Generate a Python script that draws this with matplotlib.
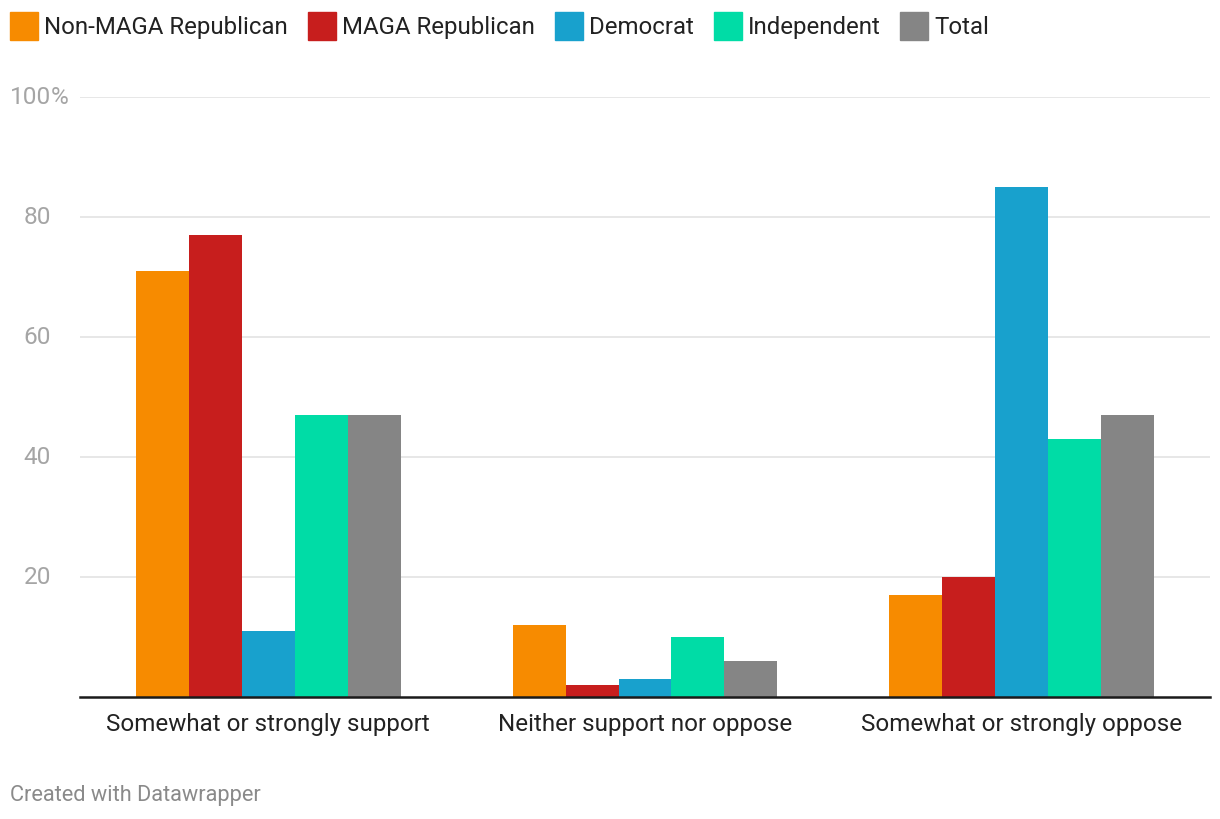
import matplotlib
matplotlib.use("Agg")
import matplotlib.pyplot as plt
import matplotlib.patches as mpatches
import matplotlib.transforms as mtransforms
import numpy as np

plt.rcParams['font.family'] = ['Roboto', 'DejaVu Sans']

categories = ["Somewhat or strongly support", "Neither support nor oppose", "Somewhat or strongly oppose"]
series_names = ["Non-MAGA Republican", "MAGA Republican", "Democrat", "Independent", "Total"]
non_maga = [71, 12, 17]
maga = [77, 2, 20]
democrat = [11, 3, 85]
independent = [47, 10, 43]
total = [47, 6, 47]
series_values = [non_maga, maga, democrat, independent, total]
colors = ["#F78B00", "#C71E1D", "#18A1CD", "#00DCA6", "#858585"]
y_ticks = [20, 40, 60, 80, 100]
y_tick_labels = ["20", "40", "60", "80", "100%"]

W, H = 1220, 820
fig = plt.figure(figsize=(W / 100, H / 100), dpi=100)
ax = fig.add_axes([80 / W, (H - 698) / H, 1130 / W, 600 / H])

x = np.arange(len(categories))
bw = 0.1407
n = len(series_names)
for i, (vals, col) in enumerate(zip(series_values, colors)):
    ax.bar(x + (i - (n - 1) / 2) * bw, vals, width=bw, color=col, linewidth=0, zorder=2)

ax.set_xlim(-0.5, len(categories) - 0.5)
ax.set_ylim(0, 100)
for s in ["top", "right", "left"]:
    ax.spines[s].set_visible(False)
ax.spines["bottom"].set_color("#1A1A1A")
ax.spines["bottom"].set_linewidth(1.8)
ax.spines["bottom"].set_zorder(3)

ax.set_yticks(y_ticks)
ax.set_yticklabels([])
ax.tick_params(axis="y", length=0)
ax.grid(axis="y", color="#E3E3E3", linewidth=1.2, zorder=0)
ax.set_axisbelow(True)

# y tick labels, Datawrapper style (numbers right aligned, % sticking out)
trans = mtransforms.blended_transform_factory(fig.transFigure, ax.transData)
for v, lab in zip(y_ticks, y_tick_labels):
    num = lab.rstrip("%")
    ax.text(51 / W, v, num, transform=trans, ha="right", va="center",
            fontsize=17.6, color="#A5A5A5")
    if lab.endswith("%"):
        ax.text(51 / W, v, "%", transform=trans, ha="left", va="center",
                fontsize=17.6, color="#A5A5A5")

ax.set_xticks(x)
ax.set_xticklabels(categories, fontsize=17.4, color="#222222")
ax.tick_params(axis="x", length=0, pad=11)

# Legend
fig.canvas.draw()
renderer = fig.canvas.get_renderer()
xpos = 10
sq = 28
for name, col in zip(series_names, colors):
    fig.patches.append(mpatches.Rectangle((xpos / W, (H - 41) / H), sq / W, sq / H,
                                          transform=fig.transFigure, color=col, figure=fig))
    t = fig.text((xpos + sq + 6) / W, (H - 27.5) / H, name, ha="left", va="center",
                 fontsize=17.3, color="#222222")
    bb = t.get_window_extent(renderer=renderer)
    xpos = bb.x1 + 20

fig.text(10 / W, (H - 796) / H, "Created with Datawrapper", ha="left", va="center",
         fontsize=15.7, color="#8A8A8A")

fig.savefig("out.png", dpi=100, facecolor="white")
